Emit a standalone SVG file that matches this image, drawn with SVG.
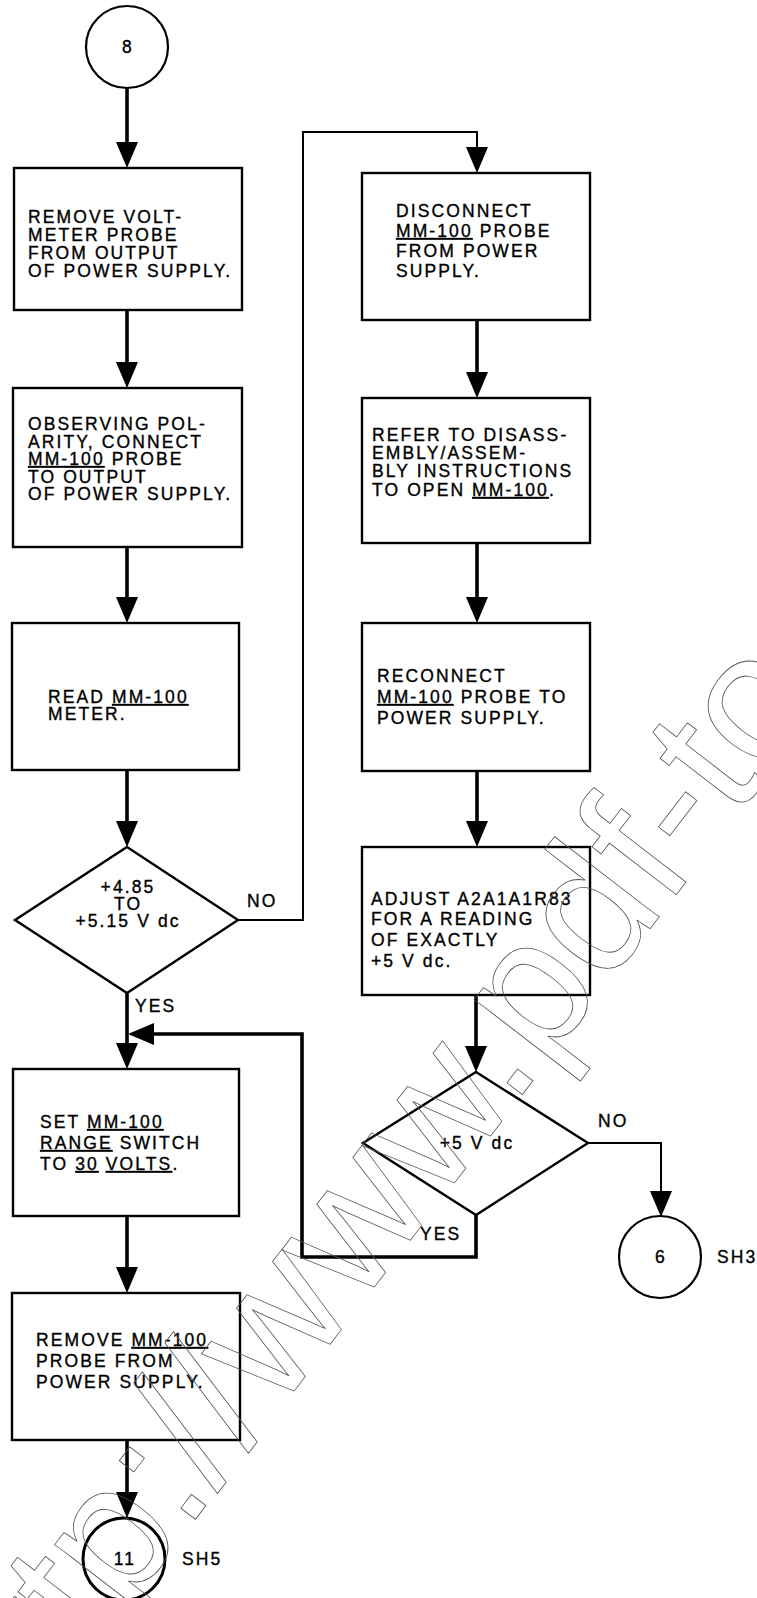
<svg xmlns="http://www.w3.org/2000/svg" width="757" height="1598" viewBox="0 0 757 1598">
<style>
  .box { fill: #fff; stroke: #000; stroke-width: 2.4; }
  .term { fill: #fff; stroke: #000; stroke-width: 2.2; }
  .t { font-family: "Liberation Sans", Arial, sans-serif; font-size: 17.5px; letter-spacing: 2.1px; fill: #000; stroke: #000; stroke-width: 0.35px; }
  .c { text-anchor: middle; }
  .u { text-decoration: underline; }
  .flow { fill: none; stroke: #000; stroke-width: 3.6; stroke-linejoin: miter; }
  .thin { fill: none; stroke: #000; stroke-width: 2; }
  .wm { font-family: "Liberation Sans", Arial, sans-serif; font-size: 182px; fill: none; stroke: #555; stroke-width: 0.8; }
</style>
<defs>
  <marker id="ah" markerUnits="userSpaceOnUse" viewBox="0 0 26 22" markerWidth="26" markerHeight="22" refX="16" refY="11" orient="auto">
    <path d="M0,0 L26,11 L0,22 Z" fill="#000"/>
  </marker>
</defs>
<rect width="757" height="1598" fill="#fff"/>

<g id="connectors">
  <path class="flow" d="M127,88 V158" marker-end="url(#ah)"/>
  <path class="flow" d="M127,310 V378" marker-end="url(#ah)"/>
  <path class="flow" d="M127,547 V613" marker-end="url(#ah)"/>
  <path class="flow" d="M127,770 V837" marker-end="url(#ah)"/>
  <path class="thin" d="M238,920 H303 V132 H477 V163" marker-end="url(#ah)"/>
  <path class="flow" d="M477,320 V388" marker-end="url(#ah)"/>
  <path class="flow" d="M477,543 V613" marker-end="url(#ah)"/>
  <path class="flow" d="M477,771 V837" marker-end="url(#ah)"/>
  <path class="flow" d="M476,995 V1062" marker-end="url(#ah)"/>
  <path class="thin" d="M588,1143 H661 V1207" marker-end="url(#ah)"/>
  <path class="flow" d="M476,1215 V1257 H302 V1034 H138" marker-end="url(#ah)"/>
  <path class="flow" d="M127,993 V1059" marker-end="url(#ah)"/>
  <path class="flow" d="M127,1216 V1283" marker-end="url(#ah)"/>
  <path class="flow" d="M127,1440 V1508" marker-end="url(#ah)"/>
  <text class="t" x="247" y="907">NO</text>
  <text class="t" x="135" y="1012">YES</text>
  <text class="t" x="598" y="1127">NO</text>
  <text class="t" x="420" y="1240">YES</text>
</g>

<g id="start8">
  <circle class="term" cx="127" cy="47" r="41"/>
  <text class="t c" x="128" y="53">8</text>
</g>

<g id="box-remove-voltmeter">
  <rect class="box" x="14" y="168" width="228" height="142"/>
  <text class="t" x="28" y="223">REMOVE VOLT-</text>
  <text class="t" x="28" y="241">METER PROBE</text>
  <text class="t" x="28" y="259">FROM OUTPUT</text>
  <text class="t" x="28" y="277">OF POWER SUPPLY.</text>
</g>

<g id="box-connect">
  <rect class="box" x="13" y="388" width="229" height="159"/>
  <text class="t" x="28" y="430">OBSERVING POL-</text>
  <text class="t" x="28" y="447.5">ARITY, CONNECT</text>
  <text class="t" x="28" y="465"><tspan class="u">MM-100</tspan> PROBE</text>
  <text class="t" x="28" y="482.5">TO OUTPUT</text>
  <text class="t" x="28" y="500">OF POWER SUPPLY.</text>
</g>

<g id="box-read">
  <rect class="box" x="12" y="623" width="227" height="147"/>
  <text class="t" x="48" y="703">READ <tspan class="u">MM-100</tspan></text>
  <text class="t" x="48" y="720">METER.</text>
</g>

<g id="dec-range">
  <polygon class="box" points="127,847 238,920 127,993 15,920"/>
  <text class="t c" x="128" y="893">+4.85</text>
  <text class="t c" x="128" y="910">TO</text>
  <text class="t c" x="128" y="927">+5.15 V dc</text>
</g>

<g id="box-disconnect">
  <rect class="box" x="362" y="173" width="228" height="147"/>
  <text class="t" x="396" y="217">DISCONNECT</text>
  <text class="t" x="396" y="237"><tspan class="u">MM-100</tspan> PROBE</text>
  <text class="t" x="396" y="257">FROM POWER</text>
  <text class="t" x="396" y="277">SUPPLY.</text>
</g>

<g id="box-refer">
  <rect class="box" x="362" y="398" width="228" height="145"/>
  <text class="t" x="372" y="441">REFER TO DISASS-</text>
  <text class="t" x="372" y="459">EMBLY/ASSEM-</text>
  <text class="t" x="372" y="477">BLY INSTRUCTIONS</text>
  <text class="t" x="372" y="496">TO OPEN <tspan class="u">MM-100</tspan>.</text>
</g>

<g id="box-reconnect">
  <rect class="box" x="362" y="623" width="228" height="148"/>
  <text class="t" x="377" y="682">RECONNECT</text>
  <text class="t" x="377" y="703"><tspan class="u">MM-100</tspan> PROBE TO</text>
  <text class="t" x="377" y="724">POWER SUPPLY.</text>
</g>

<g id="box-adjust">
  <rect class="box" x="362" y="847" width="228" height="148"/>
  <text class="t" x="371" y="905">ADJUST A2A1A1R83</text>
  <text class="t" x="371" y="925">FOR A READING</text>
  <text class="t" x="371" y="946">OF EXACTLY</text>
  <text class="t" x="371" y="967">+5 V dc.</text>
</g>

<g id="dec-5v">
  <polygon class="box" points="476,1072 588,1143 476,1215 363,1143"/>
  <text class="t c" x="477" y="1149">+5 V dc</text>
</g>

<g id="end6">
  <circle class="term" cx="660" cy="1257" r="41"/>
  <text class="t c" x="661" y="1263">6</text>
  <text class="t" x="717" y="1263">SH3</text>
</g>

<g id="box-set-range">
  <rect class="box" x="13" y="1069" width="226" height="147"/>
  <text class="t" x="40" y="1128">SET <tspan class="u">MM-100</tspan></text>
  <text class="t" x="40" y="1149"><tspan class="u">RANGE</tspan> SWITCH</text>
  <text class="t" x="40" y="1170">TO <tspan class="u">30</tspan> <tspan class="u">VOLTS</tspan>.</text>
</g>

<g id="box-remove-mm100">
  <rect class="box" x="12" y="1293" width="228" height="147"/>
  <text class="t" x="36" y="1346">REMOVE <tspan class="u">MM-100</tspan></text>
  <text class="t" x="36" y="1367">PROBE FROM</text>
  <text class="t" x="36" y="1388">POWER SUPPLY.</text>
</g>

<g id="end11">
  <circle class="term" cx="124" cy="1559" r="41" style="stroke-width:3"/>
  <text class="t c" x="125" y="1565">11</text>
  <text class="t" x="182" y="1565">SH5</text>
</g>

<g id="watermark">
  <text class="wm" x="0" y="1773" transform="rotate(-52.4 0 1773)">http://www.pdf-to</text>
</g>
</svg>
